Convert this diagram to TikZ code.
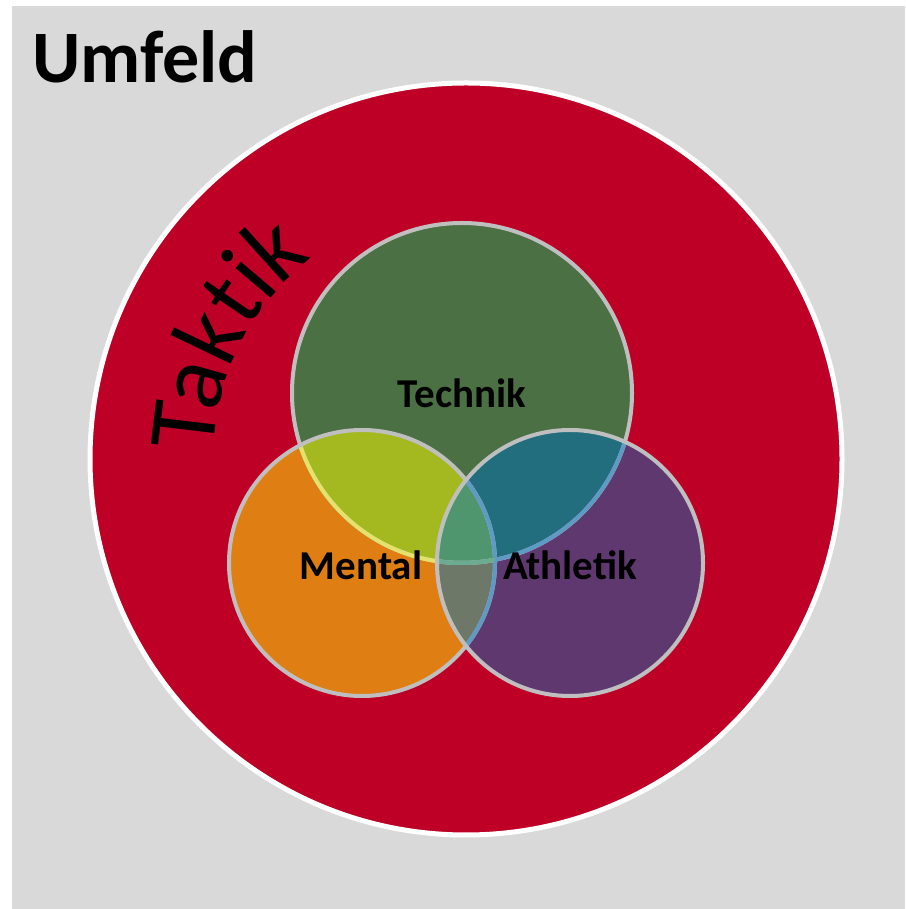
\documentclass[tikz,border=0pt]{standalone}
\usepackage{fontspec}
\setmainfont{Carlito}
\usetikzlibrary{calc}
\definecolor{bgc}{HTML}{D9D9D9}
\definecolor{redc}{HTML}{BE0027}
\definecolor{greenc}{HTML}{4A7043}
\definecolor{orangec}{HTML}{DF7E12}
\definecolor{purplec}{HTML}{603870}
\definecolor{goc}{HTML}{A4B81F}
\definecolor{gpc}{HTML}{226E7E}
\definecolor{opc}{HTML}{6E7868}
\definecolor{allc}{HTML}{4F966F}
\definecolor{bordc}{HTML}{BFBFBF}
\definecolor{yelc}{HTML}{E3E36B}
\definecolor{bluec}{HTML}{5F9AC4}
\definecolor{tealc}{HTML}{6AAB92}
\tikzset{
  ring/.style={line width=4pt},
  lab/.style={font=\bfseries\fontsize{41}{41}\selectfont, text=black, inner sep=0pt},
  arcletter/.style={font=\fontsize{96}{96}\selectfont, text=black, inner sep=0pt, anchor=base, rotate=#1-90},
}
\begin{document}
\begin{tikzpicture}[x=1pt,y=1pt]
\useasboundingbox (0,0) rectangle (905,909);
\fill[bgc] (12,0) rectangle (905,903);
\coordinate (cR) at (466,450);
\coordinate (cT) at (462,516);
\coordinate (cM) at (362,346);
\coordinate (cA) at (570,346);
\fill[redc, draw=white, line width=5pt] (cR) circle[radius=376];
% Taktik along arc (letter by letter)
\node[arcletter=173.2] (k1) at ($(cR)+(173.2:253)$) {T};
\node[arcletter=164.5] (k2) at ($(cR)+(164.5:253)$) {a};
\node[arcletter=154.4] (k3) at ($(cR)+(154.4:253)$) {k};
\node[arcletter=145.7] (k4) at ($(cR)+(145.7:253)$) {t};
\node[arcletter=139.6] (k5) at ($(cR)+(139.6:253)$) {i};
\node[arcletter=132.2] (k6) at ($(cR)+(132.2:253)$) {k};
% fills
\fill[greenc] (cT) circle[radius=170];
\fill[orangec] (cM) circle[radius=133];
\fill[purplec] (cA) circle[radius=133];
\begin{scope}
  \clip (cT) circle[radius=170];
  \fill[goc] (cM) circle[radius=133];
  \fill[gpc] (cA) circle[radius=133];
\end{scope}
\begin{scope}
  \clip (cM) circle[radius=133];
  \fill[opc] (cA) circle[radius=133];
  \clip (cT) circle[radius=170];
  \fill[allc] (cA) circle[radius=133];
\end{scope}
% borders
\draw[ring, bordc] (cT) circle[radius=170];
\begin{scope}
  \clip (cM) circle[radius=133];
  \draw[ring, yelc] (cT) circle[radius=170];
\end{scope}
\draw[ring, bordc] (cM) circle[radius=133];
\begin{scope}
  \clip (cA) circle[radius=133];
  \draw[ring, bluec] (cT) circle[radius=170];
  \draw[ring, bluec] (cM) circle[radius=133];
  \clip (cM) circle[radius=133];
  \draw[ring, tealc] (cT) circle[radius=170];
\end{scope}
\draw[ring, bordc] (cA) circle[radius=133];
% labels
\node[lab] (tT) at (462,516) {Technik};
\node[lab] (tM) at (361,344) {Mental};
\node[lab] (tA) at (570,344) {Athletik};
\node[anchor=base west, inner sep=0pt, font=\bfseries\fontsize{74}{74}\selectfont] (um) at (32,826) {Umfeld};
\end{tikzpicture}
\end{document}
